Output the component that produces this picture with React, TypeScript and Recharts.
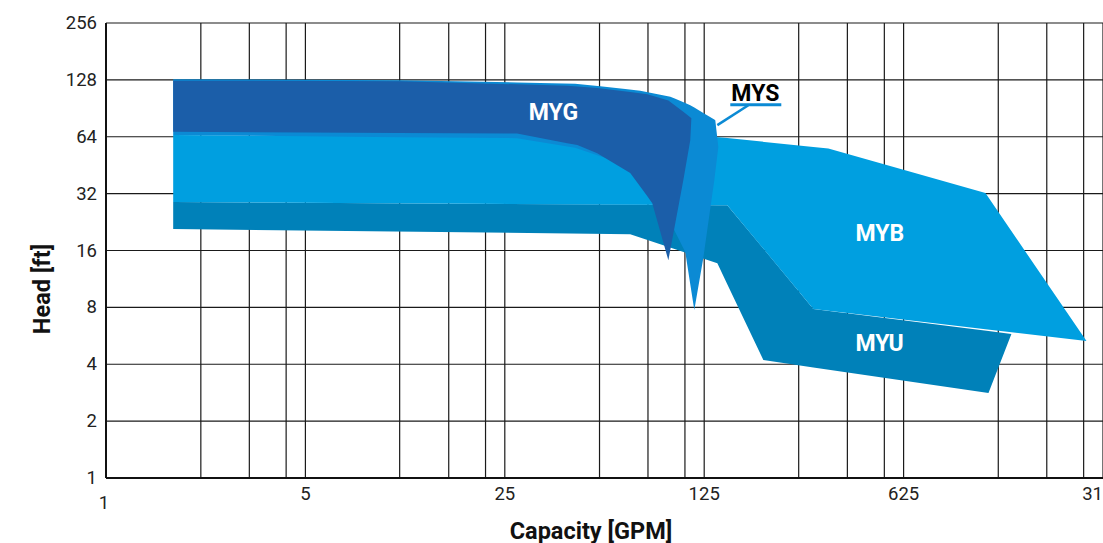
import React from 'react';
import {
  ComposedChart,
  Area,
  XAxis,
  YAxis,
  CartesianGrid,
  ReferenceDot,
  ReferenceLine,
  Label,
} from 'recharts';

// Axis ticks
const xTicks = [1, 5, 25, 125, 625, 3125];
const yTicks = [1, 2, 4, 8, 16, 32, 64, 128, 256];
const xGridValues = [
  1, 2.15, 3.18, 4.28, 5, 10.7, 15.9, 21.4, 25, 53.7, 79.4, 107, 125, 268, 397, 535, 625,
  1342, 1985, 2673, 3125,
];

// MYU region (flow GPM, min head ft, max head ft)
const myuFlow = [1.72, 68.8, 139.0, 150.6, 201.5, 301.7, 1240, 1492];
const myuMin = [20.8, 19.5, 13.7, 10.6, 4.21, 3.85, 2.82, 5.78];
const myuMax = [28.9, 28.0, 27.8, 27.8, 16.4, 7.84, 5.99, 5.78];

// MYB region
const mybFlow = [1.72, 140.1, 150.6, 301.7, 340.5, 1210, 2735];
const mybMin = [28.9, 27.8, 27.8, 7.84, 7.67, 6.13, 5.31];
const mybMax = [65.3, 63.7, 63.0, 56.5, 55.4, 32.2, 5.31];

// MYS region
const mysFlow = [1.72, 10.7, 27.6, 44.1, 54.0, 66.1, 74.6, 87.7, 95.1, 99.0, 107.3, 111.7, 115.4, 124.1, 135.6, 136.7, 140.1];
const mysMin = [65.3, 63.7, 62.9, 55.9, 50.5, 46.4, 38.2, 29.6, 22.8, 20.0, 15.7, 10.6, 7.74, 14.6, 37.7, 41.7, 56.4];
const mysMax = [129.1, 127.5, 124.0, 122.2, 118.4, 114.6, 112.2, 106.8, 104.3, 101.6, 96.5, 94.0, 91.3, 85.5, 78.9, 78.3, 56.4];

// MYG region
const mygFlow = [1.72, 10.7, 27.6, 41.4, 44.9, 52.7, 68.8, 79.0, 82.2, 93.6, 105.6, 111.7, 112.7];
const mygMin = [68.1, 67.0, 66.5, 59.1, 57.8, 52.4, 41.1, 31.0, 28.5, 14.2, 37.7, 61.4, 80.3];
const mygMax = [126.8, 126.0, 121.2, 119.2, 118.0, 115.8, 110.4, 107.5, 105.5, 99.4, 86.9, 81.1, 80.3];

// Labels (name, flow, head)
const labelNames = ['MYG', 'MYB', 'MYU'];
const labelFlow = [37, 516, 515];
const labelHead = [86.4, 19.7, 5.18];

const mysLabel = { name: 'MYS', flow: 188.9, head: 108.9 };
const mysUnderline = [
  { x: 154.3, y: 94.6 },
  { x: 232.9, y: 94.6 },
];
const mysLeader = [
  { x: 178.5, y: 94.0 },
  { x: 139.0, y: 73.7 },
];

const build = (flow: number[], lo: number[], hi: number[]) =>
  flow.map((f, i) => ({ flow: f, range: [lo[i], hi[i]] }));

const myuData = build(myuFlow, myuMin, myuMax);
const mybData = build(mybFlow, mybMin, mybMax);
const mysData = build(mysFlow, mysMin, mysMax);
const mygData = build(mygFlow, mygMin, mygMax);

const FONT = 'Roboto, "Noto Sans", sans-serif';
const MYU = '#0081B9';
const MYB = '#009FE0';
const MYS = '#0B8AD4';
const MYG = '#1B5EA9';

const XTick = (props: any) => {
  const { x, y, payload } = props;
  const v = payload.value;
  const first = v === 1;
  return (
    <text
      x={x + (first ? -2 : 0)}
      y={y + (first ? 17 : 8)}
      textAnchor="middle"
      dominantBaseline="central"
      fontSize={18.5}
      fontFamily={FONT}
      fill="#222"
    >
      {v}
    </text>
  );
};

const YTick = (props: any) => {
  const { x, y, payload } = props;
  return (
    <text
      x={x - 1}
      y={y}
      textAnchor="end"
      dominantBaseline="central"
      fontSize={18.5}
      fontFamily={FONT}
      fill="#222"
    >
      {payload.value}
    </text>
  );
};

const makeLabelShape = (name: string, color: string) => (p: any) => (
  <text
    x={p.cx}
    y={p.cy}
    textAnchor="middle"
    dominantBaseline="central"
    fontSize={23}
    fontWeight={700}
    fontFamily={FONT}
    fill={color}
  >
    {name}
  </text>
);

export default function App() {
  return (
    <div style={{ position: 'absolute', left: 0, top: 0, width: 1103, height: 543, background: '#fff' }}>
      <ComposedChart
        width={1103}
        height={543}
        margin={{ top: 23, right: 0, bottom: 20, left: 36 }}
      >
        <CartesianGrid
          stroke="#1a1a1a"
          strokeWidth={1.2}
          verticalValues={xGridValues}
          horizontalValues={yTicks}
        />
        <XAxis
          type="number"
          dataKey="flow"
          scale="log"
          domain={[1, 3125]}
          allowDataOverflow
          ticks={xTicks}
          interval={0}
          height={45}
          tickLine={false}
          axisLine={{ stroke: '#111', strokeWidth: 2 }}
          tick={<XTick />}
        >
          <Label
            content={() => (
              <text
                x={591}
                y={539}
                textAnchor="middle"
                fontSize={23.5}
                fontWeight={700}
                fontFamily={FONT}
                fill="#111"
              >
                Capacity [GPM]
              </text>
            )}
          />
        </XAxis>
        <YAxis
          type="number"
          scale="log"
          domain={[1, 256]}
          allowDataOverflow
          ticks={yTicks}
          interval={0}
          width={70}
          tickLine={false}
          axisLine={{ stroke: '#111', strokeWidth: 2 }}
          tick={<YTick />}
        >
          <Label
            content={() => (
              <text
                x={42}
                y={289}
                transform="rotate(-90, 42, 289)"
                textAnchor="middle"
                dominantBaseline="central"
                fontSize={23.5}
                fontWeight={700}
                fontFamily={FONT}
                fill="#111"
              >
                Head [ft]
              </text>
            )}
          />
        </YAxis>

        <Area data={myuData} dataKey="range" type="linear" stroke="none" fill={MYU} fillOpacity={1} isAnimationActive={false} dot={false} activeDot={false} />
        <Area data={mybData} dataKey="range" type="linear" stroke="none" fill={MYB} fillOpacity={1} isAnimationActive={false} dot={false} activeDot={false} />
        <Area data={mysData} dataKey="range" type="linear" stroke="none" fill={MYS} fillOpacity={1} isAnimationActive={false} dot={false} activeDot={false} />
        <Area data={mygData} dataKey="range" type="linear" stroke="none" fill={MYG} fillOpacity={1} isAnimationActive={false} dot={false} activeDot={false} />

        {labelNames.map((n, i) => (
          <ReferenceDot key={n} x={labelFlow[i]} y={labelHead[i]} r={0} shape={makeLabelShape(n, '#fff')} />
        ))}
        <ReferenceLine segment={mysUnderline} stroke={MYS} strokeWidth={3} />
        <ReferenceLine segment={mysLeader} stroke={MYS} strokeWidth={2.5} />
        <ReferenceDot x={mysLabel.flow} y={mysLabel.head} r={0} shape={makeLabelShape(mysLabel.name, '#000')} />
      </ComposedChart>
    </div>
  );
}
